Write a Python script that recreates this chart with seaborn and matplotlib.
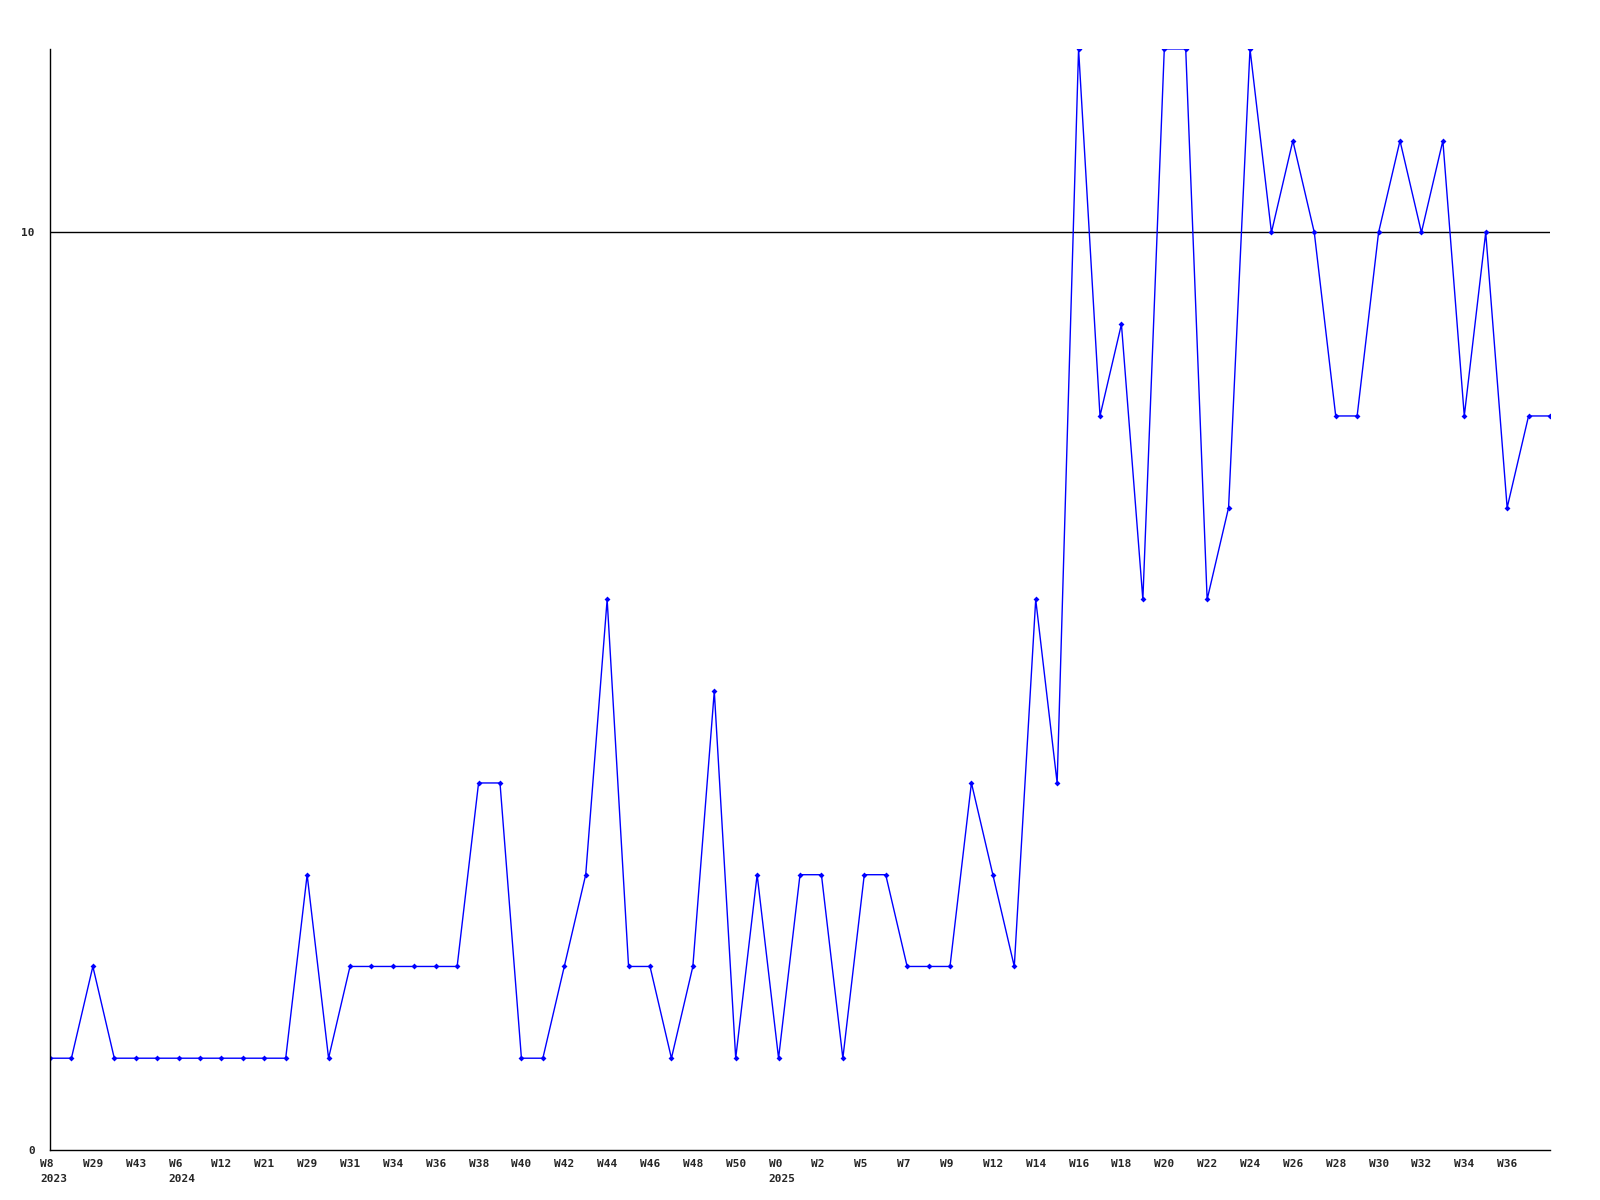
import seaborn as sns
import matplotlib.pyplot as plt
import matplotlib.transforms as mtransforms
import pandas as pd

# weekly counts, one value per week
values = [1, 1, 2, 1, 1, 1, 1, 1, 1, 1, 1, 1, 3, 1, 2, 2, 2, 2, 2, 2,
          4, 4, 1, 1, 2, 3, 6, 2, 2, 1, 2, 5, 1, 3, 1, 3, 3, 1, 3, 3,
          2, 2, 2, 4, 3, 2, 6, 4, 12, 8, 9, 6, 12, 12, 6, 7, 12, 10, 11, 10,
          8, 8, 10, 11, 10, 11, 8, 10, 7, 8, 8]

# labels shown on every other week
week_labels = ['W8', 'W29', 'W43', 'W6', 'W12', 'W21', 'W29', 'W31', 'W34', 'W36',
               'W38', 'W40', 'W42', 'W44', 'W46', 'W48', 'W50', 'W0', 'W2', 'W5',
               'W7', 'W9', 'W12', 'W14', 'W16', 'W18', 'W20', 'W22', 'W24', 'W26',
               'W28', 'W30', 'W32', 'W34', 'W36']
year_labels = {0: '2023', 3: '2024', 17: '2025'}

df = pd.DataFrame({'week': range(len(values)), 'count': values})

sns.set_style('white')
plt.rcParams['font.family'] = ['DejaVu Sans Mono']

fig = plt.figure(figsize=(16, 12), dpi=100)
ax = fig.add_axes([0.03125, 0.0417, 0.9375, 0.9175])

sns.lineplot(data=df, x='week', y='count', ax=ax, color='#0000ff', linewidth=1,
             marker='D', markersize=3, markeredgewidth=0)
ax.axhline(10, color='black', linewidth=1, zorder=0)

ax.set_xlim(0, len(values) - 1)
ax.set_ylim(0, 12)
ax.set_xlabel('')
ax.set_ylabel('')
ax.set_xticks([])
ax.set_yticks([0, 10])
ax.set_yticklabels(['0', '10'], fontsize=8, fontweight='bold')
ax.tick_params(axis='y', length=0, pad=11)

for s in ['top', 'right']:
    ax.spines[s].set_visible(False)
for s in ['left', 'bottom']:
    ax.spines[s].set_color('black')
    ax.spines[s].set_linewidth(1)

shift = mtransforms.ScaledTranslation(-10 / 100, 0, fig.dpi_scale_trans)
trans = ax.get_xaxis_transform() + shift
for i, lab in enumerate(week_labels):
    ax.text(i * 2, -0.008, lab, transform=trans, ha='left', va='top',
            fontsize=8, fontweight='bold')
    if i in year_labels:
        ax.text(i * 2, -0.022, year_labels[i], transform=trans, ha='left',
                va='top', fontsize=8, fontweight='bold')

fig.savefig('out.png', dpi=100)
